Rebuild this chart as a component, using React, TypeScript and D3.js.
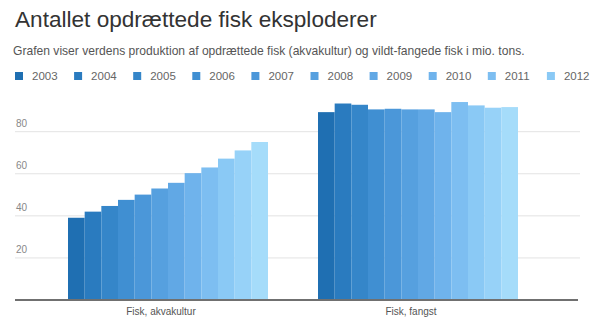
import React from 'react';
import * as d3 from 'd3';

const categories = ['Fisk, akvakultur', 'Fisk, fangst'];
const years = ['2003', '2004', '2005', '2006', '2007', '2008', '2009', '2010', '2011', '2012', '2013', '2014'];
const akvakultur = [39.1, 42.0, 44.7, 47.6, 50.1, 53.0, 55.7, 60.3, 63.0, 67.2, 71.1, 75.1];
const fangst = [89.3, 93.4, 92.8, 90.6, 90.9, 90.6, 90.6, 89.3, 94.1, 92.5, 91.4, 91.7];
const yTicks = [20, 40, 60, 80];

const colors = ['#1f6fb2', '#2a7bbf', '#3586c9', '#408fd2', '#4b97d9', '#56a0df',
  '#61a8e5', '#6fb3ec', '#7dbef1', '#8ac9f5', '#97d2f8', '#a5dcfa'];

const W = 590;
const H = 318;

export default function App() {
  const series = [akvakultur, fangst];

  const x0 = d3.scaleBand<string>()
    .domain(categories)
    .range([15, 571])
    .paddingInner(0.2)
    .paddingOuter(0.212);
  const x1 = d3.scaleBand<string>()
    .domain(years)
    .range([0, x0.bandwidth()]);
  const y = d3.scaleLinear().domain([0, 80]).range([300, 131.7]);

  // legend runs past the right edge, like the original
  const legendX = (i: number) => 15 + i * 59.1;

  return (
    <div style={{position: 'absolute', left: 0, top: 0}}>
      <svg width={W} height={H} style={{display: 'block', fontFamily: 'Liberation Sans, Arial, sans-serif'}}>
        <rect width={W} height={H} fill="#fff" />
        <text x={15} y={27} fontSize={22.6} fill="#333">Antallet opdrættede fisk eksploderer</text>
        <text x={13} y={55} fontSize={12.1} fill="#555">
          Grafen viser verdens produktion af opdrættede fisk (akvakultur) og vildt-fangede fisk i mio. tons.
        </text>

        {years.filter((yr, i) => legendX(i) < W).map((yr, i) => (
          <g key={yr} transform={`translate(${legendX(i)},72)`}>
            <rect width={8} height={8} fill={colors[i]} />
            <text x={17} y={8} fontSize={11.5} fill="#666">{yr}</text>
          </g>
        ))}

        {yTicks.map(t => (
          <g key={t}>
            <line x1={15} x2={580} y1={y(t)} y2={y(t)} stroke="#e3e3e3" />
            <text x={16} y={y(t) - 5} fontSize={10} fill="#888">{t}</text>
          </g>
        ))}

        {categories.map((c, ci) => (
          <g key={c} transform={`translate(${x0(c)},0)`}>
            {series[ci].map((v, i) => (
              <rect key={years[i]} x={x1(years[i])} y={y(v)} width={x1.bandwidth()}
                height={y(0) - y(v)} fill={colors[i]} />
            ))}
            <text x={x0.bandwidth() / 2 - 7} y={315} fontSize={10} fill="#555" textAnchor="middle">{c}</text>
          </g>
        ))}

        <line x1={15} x2={578} y1={y(0)} y2={y(0)} stroke="#707070" strokeWidth={2} />
      </svg>
    </div>
  );
}
